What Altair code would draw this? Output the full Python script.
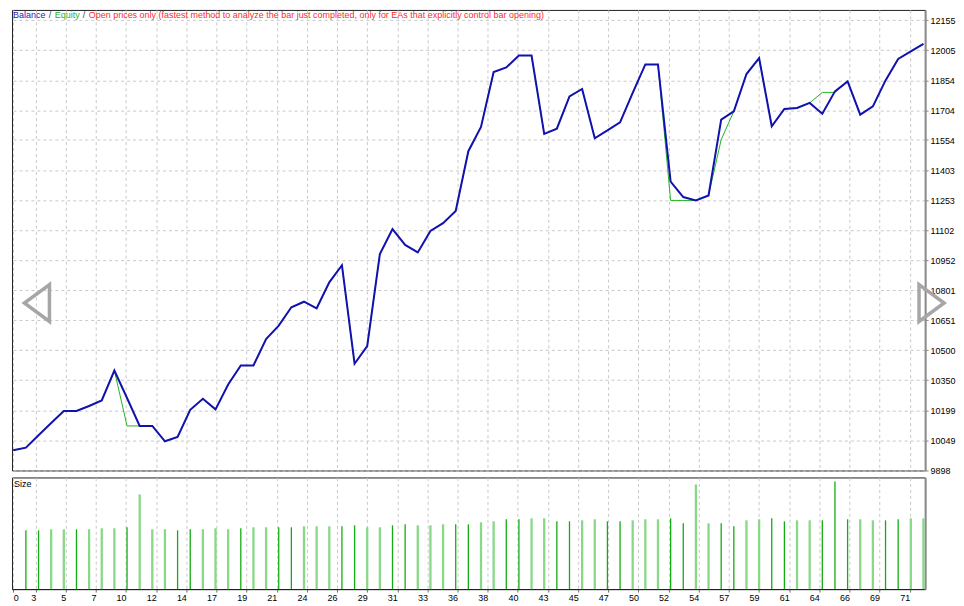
import json
import altair as alt
import pandas as pd

# ---------------- data ----------------
trade_no = list(range(73))
balance = [9998, 10011, 10073, 10135, 10195, 10195, 10220, 10248, 10398, 10260,
           10120, 10120, 10043, 10065, 10201, 10256, 10203, 10328, 10423, 10423,
           10556, 10623, 10715, 10743, 10710, 10840, 10926, 10432, 10520, 10982,
           11107, 11028, 10990, 11098, 11137, 11198, 11498, 11620, 11895, 11918,
           11978, 11978, 11585, 11611, 11773, 11810, 11563, 11602, 11643, 11790,
           11933, 11933, 11345, 11268, 11251, 11276, 11656, 11698, 11885, 11965,
           11623, 11710, 11715, 11740, 11686, 11798, 11848, 11681, 11723, 11853,
           11961, 11999, 12036]
equity = [9998, 10011, 10073, 10135, 10195, 10195, 10220, 10248, 10398, 10120,
          10120, 10120, 10043, 10065, 10201, 10256, 10203, 10328, 10423, 10423,
          10556, 10623, 10715, 10743, 10710, 10840, 10926, 10432, 10520, 10982,
          11107, 11028, 10990, 11098, 11137, 11198, 11498, 11620, 11895, 11918,
          11978, 11978, 11585, 11611, 11773, 11810, 11563, 11602, 11643, 11790,
          11933, 11933, 11251, 11251, 11251, 11276, 11556, 11698, 11885, 11965,
          11623, 11710, 11715, 11740, 11793, 11793, 11848, 11681, 11723, 11853,
          11961, 11999, 12036]

lot_trade = list(range(1, 73))
lot_size = [0.59, 0.59, 0.60, 0.60, 0.60, 0.60, 0.61, 0.61, 0.62, 0.95,
            0.60, 0.60, 0.59, 0.60, 0.60, 0.61, 0.60, 0.61, 0.62, 0.62,
            0.62, 0.62, 0.63, 0.63, 0.63, 0.63, 0.64, 0.62, 0.62, 0.64,
            0.65, 0.64, 0.64, 0.65, 0.65, 0.65, 0.67, 0.68, 0.70, 0.70,
            0.71, 0.71, 0.68, 0.68, 0.69, 0.70, 0.68, 0.68, 0.69, 0.70,
            0.70, 0.71, 0.66, 1.05, 0.66, 0.66, 0.63, 0.69, 0.70, 0.71,
            0.68, 0.69, 0.69, 0.69, 1.08, 0.70, 0.70, 0.69, 0.69, 0.70,
            0.71, 0.71]
lot_kind = list("DDLLDLLLDL" "LLDDLLLDLL" "DDLLLDDLLD" "DLLLDDLLDD"
                "LLDDLLDDLL" "LDDLLDDLLD" "DLLDDDLLDD" "LL")

y_tick_values = [12155, 12005, 11854, 11704, 11554, 11403, 11253, 11102,
                 10952, 10801, 10651, 10500, 10350, 10199, 10049, 9898]
x_tick_labels = ["0", "3", "5", "7", "10", "12", "14", "17", "19", "21", "24",
                 "26", "29", "31", "33", "36", "38", "40", "43", "45", "47",
                 "50", "52", "54", "57", "59", "61", "64", "66", "69", "71"]

legend_parts = ["Balance", "/", "Equity", "/",
                "Open prices only (fastest method to analyze the bar just completed, "
                "only for EAs that explicitly control bar opening)"]
panel_label = "Size"

# ---------------- styling ----------------
FONT = "Liberation Sans"
W = 916
H_MAIN = 462
H_SIZE = 112
X_OFFSET = -0.61   # grid spacing of the x axis (MT4 draws grid at fixed pixel steps)
X_STEP = 2.384

df = pd.DataFrame({"trade": trade_no, "balance": balance, "equity": equity})
lots = pd.DataFrame({"trade": lot_trade, "lots": lot_size, "kind": lot_kind,
                     "base": [0] * len(lot_trade)})

x_ticks = [0] + [round(X_OFFSET + i * X_STEP, 4) for i in range(1, len(x_tick_labels))]
label_expr = (f"{json.dumps(x_tick_labels)}"
              f"[round((datum.value - ({X_OFFSET})) / {X_STEP})]")

xs = alt.Scale(domain=[-0.1, 72.13], nice=False, zero=False)
ys = alt.Scale(domain=[9896.5, 12206.5], nice=False, zero=False)

grid = dict(grid=True, gridColor="#c8c8c8", gridDash=[3, 3], gridWidth=1)

x_main_axis = alt.Axis(values=x_ticks, labels=False, ticks=False, domain=False,
                       title=None, **grid)
y_main_axis = alt.Axis(orient="right", values=y_tick_values, format="d", title=None,
                       domainColor="#8a8a8a", domainWidth=2, tickColor="#8a8a8a",
                       tickSize=3, labelPadding=2, labelFont=FONT, labelFontSize=9,
                       labelColor="#000000", **grid)

eq = alt.Chart(df).mark_line(color="#22b422", strokeWidth=1).encode(
    x=alt.X("trade:Q", scale=xs, axis=x_main_axis),
    y=alt.Y("equity:Q", scale=ys, axis=y_main_axis),
)
bal = alt.Chart(df).mark_line(color="#1212ae", strokeWidth=2).encode(
    x=alt.X("trade:Q", scale=xs, axis=x_main_axis),
    y=alt.Y("balance:Q", scale=ys, axis=y_main_axis),
)

legend_colors = ["#2323c0", "#404040", "#1fb41f", "#404040", "#ff2a2a"]
legend_x = [1, 37, 43, 71, 77]
texts = []
for part, col, px in zip(legend_parts, legend_colors, legend_x):
    texts.append(
        alt.Chart(pd.DataFrame({"label": [part]})).mark_text(
            align="left", baseline="middle", font=FONT, fontSize=9, color=col
        ).encode(x=alt.value(px), y=alt.value(5.5), text="label:N")
    )

tri_left = "M 0.68,-1 L -0.68,0 L 0.68,1 Z"
tri_right = "M -0.68,-1 L 0.68,0 L -0.68,1 Z"
arrows = []
for shp, px in [(tri_left, 25), (tri_right, 922.5)]:
    arrows.append(
        alt.Chart(pd.DataFrame({"d": [0]})).mark_point(
            shape=shp, size=1369, filled=False, stroke="#a6a6a6", strokeWidth=3.5,
            opacity=1
        ).encode(x=alt.value(px), y=alt.value(294))
    )

main = alt.layer(eq, bal, *texts, *arrows).properties(width=W, height=H_MAIN)

x_size_axis = alt.Axis(
    values=x_ticks, labelExpr=label_expr, labelFlush=False,
    labelAlign={"condition": {"test": "datum.value == 0", "value": "left"}, "value": "right"},
    title=None, domainColor="#202020", tickColor="#707070", tickSize=3,
    labelPadding=1, labelFont=FONT, labelFontSize=9, labelColor="#000000", **grid,
)
y_size_axis = alt.Axis(orient="right", labels=False, ticks=False, grid=False, title=None,
                       domainColor="#8a8a8a", domainWidth=2)

bars = alt.Chart(lots).mark_rule().encode(
    x=alt.X("trade:Q", scale=xs, axis=x_size_axis),
    y=alt.Y("lots:Q", scale=alt.Scale(domain=[0, 1.12], nice=False, zero=True),
            axis=y_size_axis),
    y2="base:Q",
    color=alt.Color("kind:N", scale=alt.Scale(domain=["D", "L"],
                                              range=["#12ad12", "#88d888"]), legend=None),
    strokeWidth=alt.StrokeWidth("kind:O", scale=alt.Scale(domain=["D", "L"],
                                                          range=[1.3, 2.3]), legend=None),
)
size_text = alt.Chart(pd.DataFrame({"label": [panel_label]})).mark_text(
    align="left", baseline="middle", font=FONT, fontSize=9, color="#000000"
).encode(x=alt.value(2), y=alt.value(7), text="label:N")

size_panel = alt.layer(bars, size_text).properties(width=W, height=H_SIZE)

chart = alt.vconcat(main, size_panel, spacing=0).properties(
    padding=0,
    background="#ffffff",
).configure_view(stroke="#202020", strokeWidth=1)

chart.save("out.html", embed_options={"renderer": "svg", "actions": False})
